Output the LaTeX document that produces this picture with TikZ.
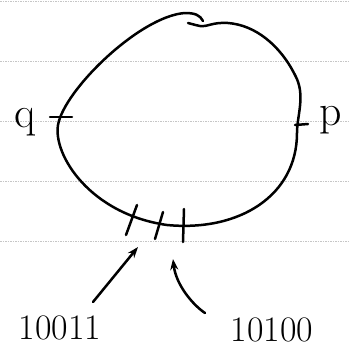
\documentclass[tikz,border=0pt]{standalone}
\usetikzlibrary{arrows.meta}
\begin{document}
\begin{tikzpicture}[x=1bp,y=-1bp,
  ink/.style={line width=2.5bp,line cap=round,line join=round,black},
  ruled/.style={gray!45,line width=0.6bp,dash pattern=on 1.5bp off 1bp},
  lab/.style={font=\fontsize{36}{36}\selectfont,inner sep=0pt},
  pt/.style={font=\fontsize{44}{44}\selectfont,inner sep=0pt}]
\useasboundingbox (0,0) rectangle (350,359);
% ruled paper lines
\foreach \yy in {1,61,121,181,241} \draw[ruled] (0,\yy) -- (350,\yy);
% closed loop (hand drawn, with overlap at top)
\draw[ink] (203,21) .. controls (200,15) and (195,13) .. (185,13)
  .. controls (140,16) and (64,90) .. (58,125)
  .. controls (53,155) and (90,214) .. (167,225)
  .. controls (240,232) and (297,195) .. (297,133)
  .. controls (297,115) and (306,95) .. (295,75)
  .. controls (280,45) and (255,25) .. (228,23)
  .. controls (212,22) and (208,27) .. (200,26)
  .. controls (195,25) and (192,24) .. (188,23);
% side ticks
\coordinate (qa) at (50,117); \coordinate (qb) at (72,117);
\draw[ink] (qa) -- (qb);
\coordinate (pa) at (295,125); \coordinate (pb) at (308,124);
\draw[ink] (pa) -- (pb);
\node[pt] (q) at (25,122) {q};
\node[pt] (p) at (331,120) {p};
% bottom ticks
\coordinate (t1a) at (137,205); \coordinate (t1b) at (126,235);
\coordinate (t2a) at (163,212); \coordinate (t2b) at (155,239);
\coordinate (t3a) at (184,209); \coordinate (t3b) at (183,242);
\draw[ink] (t1a) -- (t1b);
\draw[ink] (t2a) -- (t2b);
\draw[ink] (t3a) -- (t3b);
% labels
\node[lab] (l1) at (60,328) {10011};
\node[lab] (l2) at (272,330) {10100};
\coordinate (a1s) at (93,302); \coordinate (a1e) at (138,247);
\coordinate (a2s) at (205,313); \coordinate (a2e) at (173,259);
\draw[ink,-{Stealth[length=11bp,width=8bp]}] (a1s) -- (a1e);
\draw[ink,-{Stealth[length=11bp,width=8bp,open]}] (a2s) .. controls (193,305) and (176,285) .. (a2e);
\end{tikzpicture}
\end{document}
